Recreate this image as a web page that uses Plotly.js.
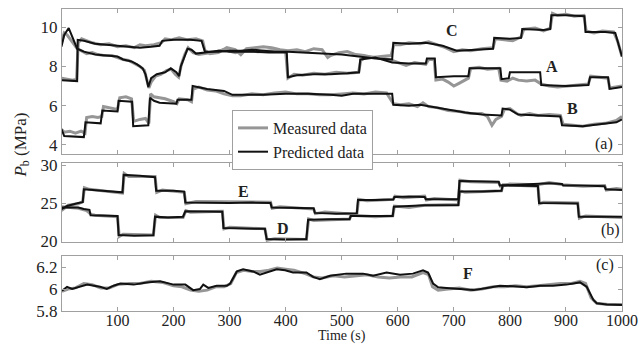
<!DOCTYPE html>
<html>
<head>
<meta charset="utf-8">
<script src="https://cdn.plot.ly/plotly-3.0.1.min.js"></script>
<style>html,body{margin:0;padding:0;background:#fff;}#chart{width:639px;height:345px;}</style>
</head>
<body>
<div id="chart"></div>
<script>
// ---------- Panel (a) ----------
const tA_pred = [0,5,13,20,28,40,60,80,100,110,125,135,145,150,155,160,170,185,195,205,210,213,218,225,232,240,256,280,300,340,370,402,404,420,450,480,510,531,533,560,590,620,650,652,666,668,700,726,728,783,785,798,800,854,856,900,940,943,975,978,1000];
const vA_pred = [9.0,9.6,9.95,9.5,8.9,8.75,8.6,8.55,8.5,8.35,8.25,8.1,7.9,7.6,6.95,7.4,7.6,7.7,7.9,7.7,7.5,8.0,8.4,8.9,8.85,8.65,8.7,8.8,8.75,8.75,8.7,8.7,7.45,7.55,7.6,7.6,7.65,7.7,8.35,8.45,8.2,8.15,8.15,8.4,8.4,7.45,7.5,7.5,7.9,7.9,7.35,7.4,7.7,7.7,7.05,7.0,7.05,7.45,7.45,6.85,6.95];
const tA_meas = [0,5,10,15,22,28,35,45,55,65,75,90,100,110,120,130,140,148,152,156,160,168,178,188,196,203,209,214,220,226,235,245,256,270,290,310,330,350,375,400,404,415,430,450,470,490,510,530,534,545,560,575,590,600,615,630,650,655,665,668,680,690,700,710,726,730,745,760,780,784,795,805,815,830,845,856,870,885,900,920,940,944,960,975,978,990,1000];
const vA_meas = [9.2,9.7,9.6,9.4,9.1,8.9,8.8,8.65,8.7,8.6,8.55,8.55,8.45,8.35,8.3,8.15,8.0,7.8,7.3,6.9,7.2,7.5,7.6,7.8,7.85,7.6,7.45,8.1,8.6,8.95,8.7,8.6,8.65,8.7,8.85,8.7,8.8,8.75,8.8,8.75,7.4,7.6,7.55,7.65,7.6,7.7,7.65,7.7,8.3,8.5,8.45,8.4,8.3,8.2,8.05,8.2,8.1,8.35,8.35,7.3,7.35,7.2,7.0,7.15,7.4,7.9,7.95,7.85,7.9,7.3,7.25,7.4,7.3,7.25,7.3,7.1,7.0,6.95,7.0,7.05,7.1,7.5,7.45,7.4,6.9,6.95,7.0];

const tB_pred = [0,5,40,43,70,73,100,102,126,128,155,158,165,175,205,207,232,234,260,290,305,330,360,400,440,480,500,520,560,590,592,620,640,660,680,700,720,750,770,785,787,800,815,850,890,893,930,960,990,1000];
const vB_pred = [4.8,4.45,4.4,5.15,5.1,5.75,5.7,6.25,6.2,4.95,5.0,6.4,6.25,6.15,6.1,6.3,6.3,7.0,6.85,6.75,6.55,6.55,6.55,6.6,6.6,6.55,6.5,6.6,6.6,6.6,6.05,6.0,6.05,5.95,5.85,5.75,5.65,5.55,5.5,5.5,5.85,5.8,5.55,5.5,5.45,5.0,4.95,5.05,5.15,5.3];
const tB_meas = [0,5,15,25,35,42,45,55,65,72,75,85,95,100,104,115,125,129,140,150,156,159,165,175,185,200,206,210,225,232,235,245,260,275,290,305,320,340,360,380,400,420,440,460,480,500,520,540,560,580,592,605,620,635,645,655,670,690,710,730,750,760,768,775,785,790,800,812,820,835,850,870,890,895,910,930,950,970,990,1000];
const vB_meas = [4.8,4.65,4.7,4.6,4.7,4.6,5.4,5.45,5.4,5.45,5.95,5.9,5.85,5.8,6.4,6.45,6.35,5.2,5.3,5.35,5.1,6.6,6.45,6.4,6.35,6.2,6.1,6.35,6.3,6.2,6.85,6.95,6.8,6.75,6.6,6.5,6.5,6.6,6.55,6.65,6.7,6.6,6.6,6.55,6.55,6.6,6.65,6.6,6.7,6.65,6.1,6.05,6.1,5.95,6.15,5.95,5.9,5.75,5.7,5.6,5.6,5.45,5.0,5.3,5.45,5.8,5.85,5.6,5.5,5.6,5.5,5.55,5.5,5.05,5.0,4.95,5.05,5.1,5.25,5.45];

const tC_pred = [0,28,29,40,60,80,100,120,140,160,175,180,200,230,250,256,280,300,320,340,360,380,404,430,460,500,530,560,590,592,620,650,680,705,740,770,772,800,820,822,860,872,874,900,933,935,970,988,1000];
const vC_pred = [7.3,7.25,9.35,9.3,9.15,9.1,9.05,9.0,8.95,9.0,9.05,9.3,9.35,9.35,9.3,8.75,8.75,8.8,8.8,8.85,8.8,8.75,8.75,8.7,8.65,8.6,8.5,8.4,8.35,9.2,9.15,9.2,9.05,8.8,8.85,8.9,9.45,9.4,9.45,9.9,9.85,9.9,10.6,10.6,10.55,9.75,9.75,9.7,8.5];
const tC_meas = [0,10,20,27,30,36,45,55,70,85,100,115,130,140,150,165,178,185,195,210,225,240,252,256,265,280,295,310,320,330,345,360,375,390,404,420,435,450,465,475,480,495,510,525,540,555,570,588,593,605,620,640,655,670,685,700,715,730,750,770,774,790,805,820,825,845,860,872,876,885,900,915,932,936,950,965,985,992,1000];
const vC_meas = [7.4,7.35,7.3,7.35,9.2,9.4,9.3,9.2,9.1,9.15,9.0,9.05,8.95,9.1,9.05,9.1,9.2,9.4,9.35,9.45,9.35,9.4,9.3,8.8,8.65,8.7,8.95,8.85,8.6,8.9,8.95,9.0,8.95,8.85,8.8,8.85,8.75,8.9,8.85,8.45,8.55,8.7,8.75,8.6,8.55,8.45,8.5,8.55,9.1,9.1,9.2,9.15,9.25,9.1,8.95,8.75,8.85,8.8,8.9,8.95,9.4,9.35,9.3,9.5,9.9,9.95,9.8,9.95,10.7,10.6,10.65,10.55,10.6,9.8,9.7,9.8,9.75,9.3,8.5];

// ---------- Panel (b) ----------
const tD_pred = [0,30,40,50,52,100,102,130,164,167,190,217,221,260,287,289,330,363,366,400,437,440,480,514,516,560,591,593,620,645,648,708,710,750,785,787,820,850,852,890,921,923,960,1000];
const vD_pred = [24.4,24.4,24.2,24.1,23.4,23.3,20.8,20.7,20.75,23.2,23.1,23.2,23.9,23.9,23.85,21.7,21.6,21.6,20.25,20.2,20.25,22.8,22.85,22.85,23.3,23.35,23.3,24.5,24.55,24.6,24.7,24.7,26.5,26.5,26.6,27.3,27.3,27.25,25.0,25.0,24.95,23.2,23.2,23.2];
const tD_meas = [0,30,45,53,60,100,103,110,164,168,175,217,222,230,287,290,300,363,367,380,437,441,450,514,517,560,591,594,620,648,708,711,720,785,788,850,853,860,921,924,935,1000];
const vD_meas = [24.5,24.3,24.0,23.5,23.4,23.2,20.6,20.9,20.8,23.4,23.1,23.1,24.0,23.8,23.9,21.6,21.8,21.6,20.1,20.3,20.2,22.9,22.7,22.9,23.4,23.2,23.3,24.6,24.4,24.7,24.8,26.6,26.4,26.6,27.4,27.2,24.9,25.1,25.0,23.0,23.3,23.1];
const tE_pred = [0,10,30,38,40,70,109,111,140,167,169,200,219,221,260,300,340,373,375,410,450,452,490,527,529,560,592,594,620,648,650,680,708,710,750,780,782,820,850,870,893,895,930,969,971,1000];
const vE_pred = [24.2,24.6,25.0,25.1,26.8,26.6,26.4,28.7,28.6,28.4,26.6,26.6,26.5,25.05,25.0,25.0,25.05,25.0,24.4,24.35,24.3,23.7,23.6,23.65,25.4,25.4,25.45,25.8,25.85,25.8,25.5,25.5,25.5,27.9,27.85,27.8,27.3,27.4,27.5,27.6,27.5,27.3,27.3,27.2,26.8,26.7];
const tE_meas = [0,12,30,38,41,50,109,112,120,167,170,180,219,222,240,373,376,390,450,453,470,527,530,545,592,595,610,648,651,665,708,711,730,780,783,800,850,870,895,930,969,972,990,1000];
const vE_meas = [24.0,24.7,24.9,25.2,27.0,26.8,26.3,28.9,28.5,28.5,26.4,26.7,26.4,24.9,25.2,25.1,24.3,24.5,24.2,23.6,23.8,23.5,25.5,25.3,25.5,25.9,25.7,25.9,25.4,25.6,25.4,28.0,27.8,27.7,27.2,27.5,27.4,27.7,27.4,27.2,27.3,26.7,26.9,26.8];

// ---------- Panel (c) ----------
const tF_pred = [1,10,19,46,58,69,81,93,105,129,152,176,200,221,235,247,253,262,277,295,301,313,324,342,354,366,384,399,413,437,449,461,479,508,538,556,580,604,627,645,654,663,672,687,711,735,759,782,806,830,854,877,901,925,937,949,955,973,1000];
const vF_pred = [5.985,6.02,6.0,6.04,6.03,6.02,6.0,6.03,6.05,6.04,6.06,6.07,6.04,6.04,5.99,6.0,6.04,6.01,6.03,6.03,6.05,6.16,6.18,6.16,6.13,6.15,6.18,6.17,6.15,6.15,6.11,6.09,6.12,6.14,6.14,6.12,6.15,6.13,6.14,6.17,6.15,6.05,6.015,6.01,6.0,5.99,6.01,6.03,6.025,6.015,6.03,6.03,6.04,6.06,6.02,5.9,5.87,5.86,5.855];
const tF_meas = [1,12,25,40,55,70,85,100,120,140,160,180,200,215,230,245,260,275,290,302,312,325,340,355,370,385,400,415,435,450,465,485,505,525,545,565,585,605,625,645,655,662,672,690,710,730,750,770,790,810,830,850,870,890,910,925,935,945,955,975,1000];
const vF_meas = [5.98,6.0,6.01,6.05,6.04,6.01,6.01,6.04,6.05,6.05,6.07,6.06,6.03,6.02,5.99,5.98,5.99,6.02,6.02,6.05,6.15,6.17,6.16,6.16,6.17,6.19,6.18,6.17,6.14,6.11,6.1,6.12,6.11,6.12,6.13,6.11,6.1,6.11,6.11,6.15,6.13,6.02,5.99,6.0,6.01,5.99,6.0,6.02,6.02,6.03,6.02,6.03,6.04,6.05,6.05,6.07,6.05,5.92,5.87,5.86,5.86];

const seriesLabels = ['Measured data', 'Predicted data'];
const panelA_yticks = [4, 6, 8, 10];
const panelB_yticks = [20, 25, 30];
const panelC_yticks = [5.8, 6, 6.2];
const panelC_yticktext = ['5.8', '6', '6.2'];
const xticks = [100, 200, 300, 400, 500, 600, 700, 800, 900, 1000];

const measStyle = {color: '#969696', width: 3};
const predStyle = {color: '#111111', width: 2};

function tr(x, y, xa, ya, style, name, showlegend) {
  return {x: x, y: y, xaxis: xa, yaxis: ya, type: 'scatter', mode: 'lines',
          line: style, name: name, showlegend: showlegend, legendgroup: name};
}

const data = [
  tr(tA_meas, vA_meas, 'x3', 'y', measStyle, seriesLabels[0], true),
  tr(tB_meas, vB_meas, 'x3', 'y', measStyle, seriesLabels[0], false),
  tr(tC_meas, vC_meas, 'x3', 'y', measStyle, seriesLabels[0], false),
  tr(tD_meas, vD_meas, 'x2', 'y2', measStyle, seriesLabels[0], false),
  tr(tE_meas, vE_meas, 'x2', 'y2', measStyle, seriesLabels[0], false),
  tr(tF_meas, vF_meas, 'x', 'y3', measStyle, seriesLabels[0], false),
  tr(tA_pred, vA_pred, 'x3', 'y', predStyle, seriesLabels[1], true),
  tr(tB_pred, vB_pred, 'x3', 'y', predStyle, seriesLabels[1], false),
  tr(tC_pred, vC_pred, 'x3', 'y', predStyle, seriesLabels[1], false),
  tr(tD_pred, vD_pred, 'x2', 'y2', predStyle, seriesLabels[1], false),
  tr(tE_pred, vE_pred, 'x2', 'y2', predStyle, seriesLabels[1], false),
  tr(tF_pred, vF_pred, 'x', 'y3', predStyle, seriesLabels[1], false)
];

const FONT = 'Liberation Serif';
const TXT = '#222222';
const axisCommon = {
  showline: true, mirror: 'ticks', linecolor: '#a0a0a0', linewidth: 1,
  ticks: 'inside', ticklen: 4, tickcolor: '#a0a0a0', showgrid: false, zeroline: false,
  tickfont: {family: FONT, size: 17, color: TXT}
};
const xrange = [1, 1000];
const lblFont = {family: FONT, size: 16, color: TXT};

const layout = {
  width: 639, height: 345,
  margin: {l: 62, r: 17, t: 9, b: 34},
  paper_bgcolor: '#ffffff', plot_bgcolor: '#ffffff',
  font: {family: FONT, size: 16, color: TXT},
  showlegend: true,
  legend: {x: 0.3036, y: 0.6656, xanchor: 'left', yanchor: 'top',
           bgcolor: '#ffffff', bordercolor: '#a0a0a0', borderwidth: 1,
           font: {family: FONT, size: 16, color: TXT}, tracegroupgap: 0},
  xaxis: Object.assign({}, axisCommon, {domain: [0, 1], anchor: 'y3', range: xrange, tickvals: xticks,
           tickfont: {family: FONT, size: 16, color: TXT}, ticklabelstandoff: -5}),
  xaxis2: Object.assign({}, axisCommon, {domain: [0, 1], anchor: 'y2', range: xrange, matches: 'x',
           tickvals: xticks, showticklabels: false}),
  xaxis3: Object.assign({}, axisCommon, {domain: [0, 1], anchor: 'y', range: xrange, matches: 'x',
           tickvals: xticks, showticklabels: false}),
  yaxis: Object.assign({}, axisCommon, {domain: [0.5199, 1], anchor: 'x3', range: [3.54, 10.92], tickvals: panelA_yticks}),
  yaxis2: Object.assign({}, axisCommon, {domain: [0.2285, 0.49], anchor: 'x2', range: [19.87, 30.26], tickvals: panelB_yticks}),
  yaxis3: Object.assign({}, axisCommon, {domain: [0, 0.182], anchor: 'x', range: [5.8, 6.3], tickvals: panelC_yticks, ticktext: panelC_yticktext}),
  annotations: [
    {text: '<i>P</i><sub>b</sub> (MPa)', xref: 'paper', yref: 'paper', x: -0.072, y: 0.55, xanchor: 'center', yanchor: 'middle',
     textangle: -90, showarrow: false, font: {family: FONT, size: 17, color: TXT}},
    {text: 'Time (s)', xref: 'paper', yref: 'paper', x: 0.5, y: -0.113, xanchor: 'center', yanchor: 'bottom',
     showarrow: false, borderpad: 0, font: {family: FONT, size: 14, color: TXT}},
    {text: '<b>C</b>', xref: 'x3', yref: 'y', x: 696, y: 9.85, showarrow: false, font: lblFont},
    {text: '<b>A</b>', xref: 'x3', yref: 'y', x: 875, y: 8.0, showarrow: false, font: lblFont},
    {text: '<b>B</b>', xref: 'x3', yref: 'y', x: 911, y: 5.85, showarrow: false, font: lblFont},
    {text: '(a)', xref: 'x3', yref: 'y', x: 968, y: 4.05, showarrow: false, font: lblFont},
    {text: '<b>E</b>', xref: 'x2', yref: 'y2', x: 324, y: 26.45, showarrow: false, font: lblFont},
    {text: '<b>D</b>', xref: 'x2', yref: 'y2', x: 395, y: 21.6, showarrow: false, font: lblFont},
    {text: '(b)', xref: 'x2', yref: 'y2', x: 980, y: 21.45, showarrow: false, font: lblFont},
    {text: '<b>F</b>', xref: 'x', yref: 'y3', x: 726, y: 6.145, showarrow: false, font: lblFont},
    {text: '(c)', xref: 'x', yref: 'y3', x: 970, y: 6.22, showarrow: false, font: lblFont}
  ]
};

Plotly.newPlot('chart', data, layout, {staticPlot: true, displayModeBar: false});
</script>
</body>
</html>
